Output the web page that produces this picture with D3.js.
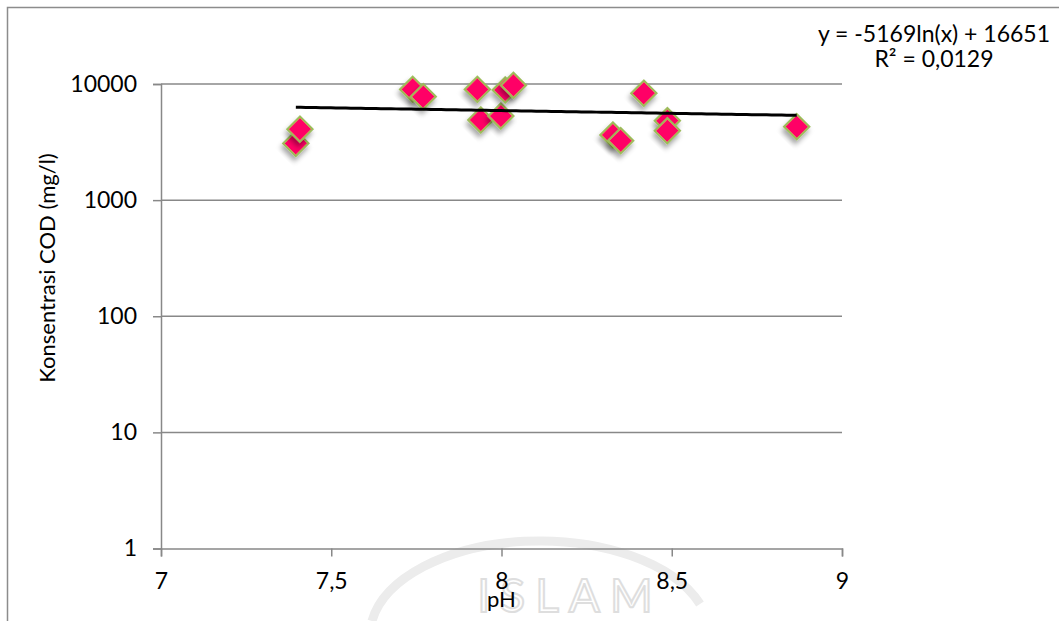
<!DOCTYPE html>
<html>
<head>
<meta charset="utf-8">
<script src="https://cdn.jsdelivr.net/npm/d3@7"></script>
<style>
  html, body { margin: 0; padding: 0; background: #fff; }
  svg text { font-family: Lato, "Open Sans", sans-serif; fill: #000; }
</style>
</head>
<body>
<svg id="chart" width="1059" height="621"></svg>
<script>
// pH of each sample
const phValues = [7.396, 7.408, 7.739, 7.770, 7.929, 7.939, 7.998, 8.011, 8.035,
                  8.327, 8.350, 8.418, 8.487, 8.487, 8.867];
// COD concentration (mg/l) of each sample
const codValues = [3080, 4080, 9000, 7780, 8990, 4900, 5300, 8880, 9750,
                   3640, 3250, 8320, 4830, 3960, 4290];
const xTicks = [7, 7.5, 8, 8.5, 9];
const yTicks = [1, 10, 100, 1000, 10000];
// logarithmic trend line y = a ln(x) + b
const trendA = -5169, trendB = 16651;
const trendLabel = ["y = -5169ln(x) + 16651", "R² = 0,0129"];

const svg = d3.select("#chart");

// outer chart frame
svg.append("path")
  .attr("d", "M7.5,621 V7.5 H1059")
  .attr("fill", "none").attr("stroke", "#8c8c8c").attr("stroke-width", 1.5);

// faint watermark at the bottom
const wm = svg.append("g");
wm.append("path")
  .attr("d", "M372,621 A170,95 0 0 1 700,604")
  .attr("fill", "none").attr("stroke", "#ececec").attr("stroke-width", 9);
wm.append("text").attr("x", 570).attr("y", 612).attr("text-anchor", "middle")
  .attr("font-size", 46).attr("letter-spacing", 10)
  .style("fill", "none").style("stroke", "#dedede").style("stroke-width", 2).text("ISLAM");

const x = d3.scaleLinear().domain([7, 9]).range([161, 842]);
const y = d3.scaleLog().domain([1, 10000]).range([548.5, 84]);

const fmt = d => String(d).replace(".", ",");

// horizontal gridlines
svg.append("g").selectAll("line").data(yTicks.slice(1)).join("line")
  .attr("x1", x(7)).attr("x2", x(9))
  .attr("y1", d => y(d)).attr("y2", d => y(d))
  .attr("stroke", "#888").attr("stroke-width", 1.5);

// y axis
const yAxis = svg.append("g").attr("transform", `translate(${x(7)},0)`)
  .call(d3.axisLeft(y).tickValues(yTicks).tickFormat(d => d).tickSize(8).tickPadding(16));
yAxis.select(".domain").attr("stroke", "#888").attr("stroke-width", 1.5);
yAxis.selectAll(".tick line").attr("stroke", "#888").attr("stroke-width", 1.5);
yAxis.selectAll(".tick text").attr("font-size", 23).attr("font-family", "Lato, sans-serif");

// x axis
const xAxis = svg.append("g").attr("transform", `translate(0,${y(1)})`)
  .call(d3.axisBottom(x).tickValues(xTicks).tickFormat(fmt).tickSize(8).tickPadding(16));
xAxis.select(".domain").attr("stroke", "#888").attr("stroke-width", 1.5);
xAxis.selectAll(".tick line").attr("stroke", "#888").attr("stroke-width", 1.5);
xAxis.selectAll(".tick text").attr("font-size", 23).attr("font-family", "Lato, sans-serif");

// axis titles
svg.append("text").attr("x", x(8)).attr("y", 607)
  .attr("text-anchor", "middle").attr("font-size", 22).text("pH");
svg.append("text")
  .attr("transform", `translate(55,268) rotate(-90)`)
  .attr("text-anchor", "middle").attr("font-size", 22).text("Konsentrasi COD (mg/l)");

// marker shadow
const defs = svg.append("defs");
const f = defs.append("filter").attr("id", "shadow")
  .attr("x", "-50%").attr("y", "-50%").attr("width", "200%").attr("height", "200%");
f.append("feDropShadow").attr("dx", 2).attr("dy", 4).attr("stdDeviation", 2.5)
  .attr("flood-color", "#000").attr("flood-opacity", 0.35);

// data markers
const diamond = d3.symbol().type(d3.symbolSquare).size(320);
svg.append("g").selectAll("path").data(phValues.map((p, i) => [p, codValues[i]])).join("path")
  .attr("d", diamond)
  .attr("transform", d => `translate(${x(d[0])},${y(d[1])}) rotate(45)`)
  .attr("fill", "#ff0066").attr("stroke", "#9bbb59").attr("stroke-width", 2)
  .attr("filter", "url(#shadow)");

// trend line across the data range
const [xmin, xmax] = d3.extent(phValues);
const trendPts = d3.range(0, 101).map(i => {
  const px = xmin + (xmax - xmin) * i / 100;
  return [px, trendA * Math.log(px) + trendB];
});
svg.append("path").datum(trendPts)
  .attr("d", d3.line().x(d => x(d[0])).y(d => y(d[1])))
  .attr("fill", "none").attr("stroke", "#000").attr("stroke-width", 3);

// trend equation
svg.append("text").attr("x", 934).attr("y", 42).attr("text-anchor", "middle")
  .attr("font-size", 23).text(trendLabel[0]);
svg.append("text").attr("x", 934).attr("y", 67).attr("text-anchor", "middle")
  .attr("font-size", 23).text(trendLabel[1]);
</script>
</body>
</html>
